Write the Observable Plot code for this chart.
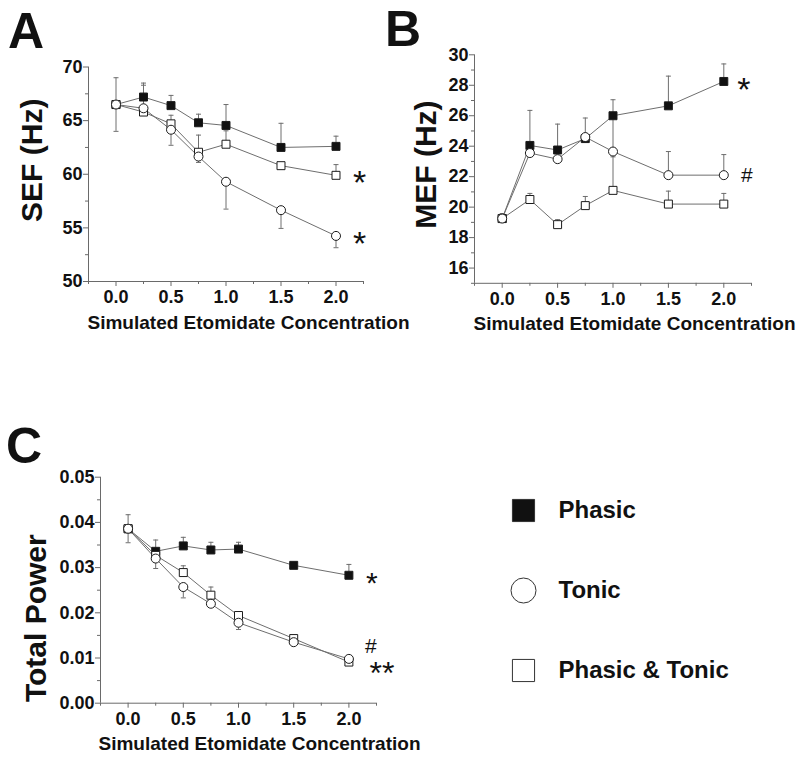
<!DOCTYPE html>
<html><head><meta charset="utf-8">
<script src="https://cdn.jsdelivr.net/npm/d3@7"></script>
<script src="https://cdn.jsdelivr.net/npm/@observablehq/plot@0.6"></script>
<style>
body{margin:0;background:#fff;}
#fig{position:relative;width:800px;height:758px;overflow:hidden;font-family:"Liberation Sans",Arial,Helvetica,sans-serif;color:#111;background:#fff;}
.panel{position:absolute;}
.letter{position:absolute;font-size:50px;font-weight:bold;line-height:56px;color:#111;}
</style></head><body><div id="fig"></div>
<script>
// ---------- data ----------
const conc = [0, 0.25, 0.5, 0.75, 1.0, 1.5, 2.0];
const seriesNames = ["Phasic", "Tonic", "Phasic & Tonic"];
const concTicks = [0, 0.5, 1, 1.5, 2];
const concMinorTicks = [-0.25, 0.25, 0.75, 1.25, 1.75, 2.25];
const concDomain = [-0.25, 2.25];
const xTitle = "Simulated Etomidate Concentration";

// Panel A: SEF (Hz)
const sefPhasic = [66.5, 67.2, 66.4, 64.8, 64.55, 62.5, 62.6];
const sefTonic  = [66.5, 66.15, 64.15, 61.65, 59.3, 56.65, 54.25];
const sefBoth   = [66.5, 65.8, 64.7, 62.05, 62.8, 60.8, 59.9];
const sefPhasicErr = [2.5, 1.3, 0.95, 0.8, 1.95, 2.25, 0.95];
const sefTonicErr  = [-2.5, -0.6, -1.45, -0.55, -2.55, -1.7, -1.1];
const sefBothErr   = [0, 2.5, 0.8, 1.6, 1.25, 0, 1.0];
const sefSig = ["", "*", "*"];
const sefDomain = [50, 70];
const sefTicks = [50, 55, 60, 65, 70];
const sefMinor = [52.5, 57.5, 62.5, 67.5];

// Panel B: MEF (Hz)
const mefPhasic = [19.25, 24.05, 23.75, 24.5, 26.0, 26.65, 28.25];
const mefTonic  = [19.25, 23.55, 23.15, 24.6, 23.65, 22.1, 22.1];
const mefBoth   = [19.25, 20.5, 18.85, 20.1, 21.1, 20.2, 20.2];
const mefPhasicErr = [0, 2.3, 1.7, 1.35, 1.05, 1.95, 1.15];
const mefTonicErr  = [0, 0, 0, 0, 2.4, 1.55, 1.35];
const mefBothErr   = [0.33, 0.4, 0.33, 0.6, 2.2, 0.85, 0.7];
const mefSig = ["*", "#", ""];
const mefDomain = [15, 30];
const mefTicks = [16, 18, 20, 22, 24, 26, 28, 30];
const mefMinor = [15, 17, 19, 21, 23, 25, 27, 29];

// Panel C: Total Power
const powerPhasic = [0.0386, 0.0336, 0.0348, 0.0339, 0.0341, 0.0305, 0.0283];
const powerTonic  = [0.0386, 0.0320, 0.0257, 0.0220, 0.0178, 0.0135, 0.0098];
const powerBoth   = [0.0386, 0.0327, 0.0289, 0.0239, 0.0194, 0.0143, 0.0091];
const powerPhasicErr = [0.0031, 0.0025, 0.0019, 0.0017, 0.0015, 0, 0.0024];
const powerTonicErr  = [-0.0031, -0.0022, -0.0024, -0.0007, -0.0015, -0.0004, -0.0004];
const powerBothErr   = [0, 0, 0.0015, 0.0018, 0.0003, 0.0004, -0.0005];
const powerSig = ["*", "#", "**"];
const powerDomain = [0, 0.05];
const powerTicks = [0, 0.01, 0.02, 0.03, 0.04, 0.05];
const powerMinor = [0.005, 0.015, 0.025, 0.035, 0.045];

// ---------- styling ----------
const FONT = "Liberation Sans, Arial, Helvetica, sans-serif";
const axisGray = "#6a6a6a";
const lineGray = "#6e6e6e";
const markerStroke = "#1c1c1c";
const textColor = "#111";
const capSymbol = {draw(context, size) { const w = Math.sqrt(size / Math.PI); context.moveTo(-w, 0); context.lineTo(w, 0); }};

function makeRows(values, errs) {
  return seriesNames.flatMap((s, i) => conc.map((x, j) => ({
    series: s, x, y: values[i][j], err: errs[i][j], y2: values[i][j] + errs[i][j]
  })));
}

function panelPlot(cfg) {
  const rows = makeRows(cfg.values, cfg.errs);
  const errRows = rows.filter(d => d.err !== 0);
  const dotRows = [0, 2, 1].flatMap(i => rows.filter(d => d.series === seriesNames[i]));
  const sigRows = seriesNames.map((s, i) => ({
    series: s, label: cfg.sig[i], x: conc[conc.length - 1], y: cfg.values[i][conc.length - 1]
  })).filter(d => d.label);
  return Plot.plot({
    width: cfg.width, height: cfg.height,
    marginLeft: cfg.mL, marginRight: cfg.mR, marginTop: cfg.mT, marginBottom: cfg.mB,
    x: {domain: concDomain},
    y: {domain: cfg.yDomain},
    symbol: {domain: seriesNames, range: ["square", "circle", "square"]},
    color: {domain: seriesNames, range: ["#111", "#fff", "#fff"]},
    style: {fontFamily: FONT, fontSize: "18px", fontWeight: "bold", color: textColor, background: "transparent", overflow: "visible"},
    marks: [
      Plot.ruleX([concDomain[0]], {stroke: axisGray}),
      Plot.ruleY([cfg.yDomain[0]], {stroke: axisGray}),
      Plot.axisY({ticks: cfg.yTicks, tickSize: 5, tickPadding: 1, tickFormat: cfg.yFormat, label: null, stroke: axisGray, fill: textColor, fontSize: 18, fontWeight: "bold"}),
      Plot.axisY({ticks: cfg.yMinor, tickSize: 3, tickFormat: () => "", label: null, stroke: axisGray}),
      Plot.axisX({ticks: concTicks, tickSize: 5, tickPadding: 4, tickFormat: d3.format(".1f"), label: null, stroke: axisGray, fill: textColor, fontSize: 18, fontWeight: "bold"}),
      Plot.axisX({ticks: concMinorTicks, tickSize: 3, tickFormat: () => "", label: null, stroke: axisGray}),
      Plot.line(rows, {x: "x", y: "y", z: "series", stroke: lineGray, strokeWidth: 1}),
      Plot.ruleX(errRows, {x: "x", y1: "y", y2: "y2", stroke: lineGray, strokeWidth: 1}),
      Plot.dot(errRows, {x: "x", y: "y2", symbol: capSymbol, r: 2.5, stroke: lineGray, fill: "none", strokeWidth: 1}),
      Plot.dot(dotRows, {x: "x", y: "y", symbol: "series", fill: "series", stroke: markerStroke, strokeWidth: 1, r: 4.5}),
      Plot.text([cfg.yTitle], {text: d => d, frameAnchor: "left", textAnchor: "middle", lineAnchor: "middle", rotate: -90, dx: cfg.yTitleDx, dy: cfg.yTitleDy, fontSize: 30, fontWeight: "bold", fill: textColor}),
      Plot.text([xTitle], {text: d => d, frameAnchor: "bottom", textAnchor: "middle", lineAnchor: "middle", dx: cfg.xTitleDx, dy: 41, fontSize: 19, fontWeight: "bold", fill: textColor}),
      ...cfg.sigMarks(sigRows)
    ]
  });
}

function sigText(rows, label, opts) {
  return Plot.text(rows.filter(d => d.label === label), {x: "x", y: "y", text: "label", textAnchor: "middle", lineAnchor: "middle", fontWeight: "normal", fill: textColor, ...opts});
}

const fig = document.getElementById("fig");
function place(node, left, top) {
  node.classList.add("panel");
  node.style.left = left + "px";
  node.style.top = top + "px";
  fig.appendChild(node);
}

const plotA = panelPlot({
  values: [sefPhasic, sefTonic, sefBoth], errs: [sefPhasicErr, sefTonicErr, sefBothErr], sig: sefSig,
  yDomain: sefDomain, yTicks: sefTicks, yMinor: sefMinor, yFormat: d3.format("d"), yTitle: "SEF (Hz)",
  width: 400, height: 345, mL: 88, mR: 37, mT: 66.5, mB: 64,
  yTitleDx: -56, yTitleDy: -14, xTitleDx: 22.5,
  sigMarks: r => [sigText(r, "*", {dx: 23.5, dy: 8, fontSize: 34})]
});
place(plotA, 0, 0);

const plotB = panelPlot({
  values: [mefPhasic, mefTonic, mefBoth], errs: [mefPhasicErr, mefTonicErr, mefBothErr], sig: mefSig,
  yDomain: mefDomain, yTicks: mefTicks, yMinor: mefMinor, yFormat: d3.format("d"), yTitle: "MEF (Hz)",
  width: 400, height: 345, mL: 74, mR: 49, mT: 54.3, mB: 62.2,
  yTitleDx: -48, yTitleDy: -4.5, xTitleDx: 21.5,
  sigMarks: r => [sigText(r, "*", {dx: 20, dy: 9, fontSize: 34}), sigText(r, "#", {dx: 23, dy: 0, fontSize: 21})]
});
place(plotB, 400, 0);

const plotC = panelPlot({
  values: [powerPhasic, powerTonic, powerBoth], errs: [powerPhasicErr, powerTonicErr, powerBothErr], sig: powerSig,
  yDomain: powerDomain, yTicks: powerTicks, yMinor: powerMinor, yFormat: d3.format(".2f"), yTitle: "Total Power",
  width: 420, height: 358, mL: 100, mR: 44, mT: 76.7, mB: 55.3,
  yTitleDx: -64, yTitleDy: 28, xTitleDx: 21,
  sigMarks: r => [
    sigText(r, "*", {dx: 23, dy: 8, fontSize: 30}),
    sigText(r, "#", {dx: 22, dy: -13, fontSize: 21}),
    sigText(r, "**", {dx: 33, dy: 12, fontSize: 32})
  ]
});
place(plotC, 0, 400);

const legend = Plot.plot({
  width: 320, height: 240, margin: 0,
  y: {type: "point", domain: seriesNames, range: [40, 200], padding: 0, axis: null},
  symbol: {domain: seriesNames, range: ["square", "circle", "square"]},
  color: {domain: seriesNames, range: ["#111", "#fff", "#fff"]},
  style: {fontFamily: FONT, background: "transparent", overflow: "visible"},
  marks: [
    Plot.dot(seriesNames, {y: d => d, frameAnchor: "left", dx: 43, symbol: d => d, fill: d => d, stroke: "#333", strokeWidth: 1, r: 12.5}),
    Plot.text(seriesNames, {y: d => d, text: d => d, frameAnchor: "left", dx: 78, textAnchor: "start", lineAnchor: "middle", fontSize: 24, fontWeight: "bold", fill: textColor})
  ]
});
place(legend, 480, 470);

// panel letters
[["A", 8, 2.75], ["B", 385, 0.5], ["C", 6, 417.75]].forEach(([t, l, tp]) => {
  const d = document.createElement("div");
  d.className = "letter";
  d.textContent = t;
  d.style.left = l + "px";
  d.style.top = tp + "px";
  fig.appendChild(d);
});
</script>
</body></html>
